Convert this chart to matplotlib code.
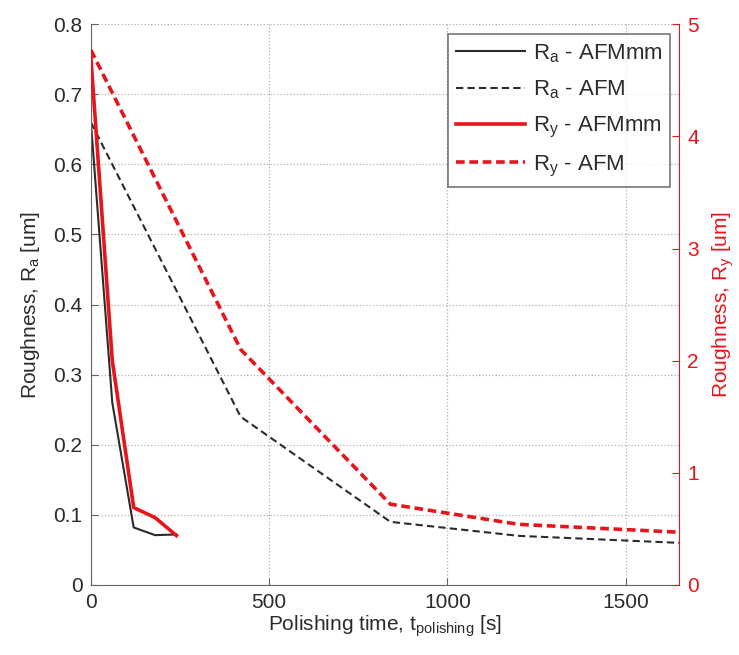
import matplotlib
matplotlib.use("Agg")
from matplotlib import pyplot as plt

plt.rcParams['font.family'] = ['Liberation Sans', 'DejaVu Sans']
plt.rcParams['mathtext.default'] = 'regular'

# polishing times [s]
t_mm = [0, 60, 120, 180, 240]
t_afm = [0, 420, 840, 1200, 1650]

# roughness values
ra_mm = [0.66, 0.26, 0.082, 0.071, 0.072]
ra_afm = [0.66, 0.24, 0.09, 0.07, 0.06]
ry_mm = [4.70, 2.00, 0.69, 0.60, 0.44]
ry_afm = [4.77, 2.10, 0.72, 0.54, 0.47]

black = '#2b2b2b'
red = '#e8141c'
fs = 15

fig = plt.figure(figsize=(7.39, 6.55), dpi=100)
ax = fig.add_axes([0.123, 0.107, 0.796, 0.856])
ax2 = ax.twinx()

l1, = ax.plot(t_mm, ra_mm, color=black, lw=1.5, label='R$_a$ - AFMmm')
l2, = ax.plot(t_afm, ra_afm, color=black, lw=1.5, ls=(0, (3.5, 2)), label='R$_a$ - AFM')
l3, = ax2.plot(t_mm, ry_mm, color=red, lw=2.6, label='R$_y$ - AFMmm')
l4, = ax2.plot(t_afm, ry_afm, color=red, lw=2.6, ls=(0, (2.4, 1.3)), label='R$_y$ - AFM')

ax.set_xlim(0, 1650)
ax.set_ylim(0, 0.8)
ax2.set_ylim(0, 5)
ax.set_xticks([0, 500, 1000, 1500])
ax.set_yticks([0, 0.1, 0.2, 0.3, 0.4, 0.5, 0.6, 0.7, 0.8])
ax.set_yticklabels(['0', '0.1', '0.2', '0.3', '0.4', '0.5', '0.6', '0.7', '0.8'])
ax2.set_yticks([0, 1, 2, 3, 4, 5])

# grid
ax.grid(True, ls=':', color='#b0b0b0', lw=0.9)

# spines like matlab
ax.spines['top'].set_visible(False)
ax2.spines['top'].set_visible(False)
ax.spines['right'].set_visible(False)
ax2.spines['left'].set_visible(False)
ax2.spines['bottom'].set_visible(False)
ax.spines['left'].set_color('#666666')
ax.spines['bottom'].set_color('#666666')
ax2.spines['right'].set_color(red)

ax.tick_params(direction='in', length=5, color='#666666', labelsize=fs,
               labelcolor=black, pad=6)
ax2.tick_params(direction='in', length=5, color=red, labelsize=fs,
                labelcolor=red, pad=6)

ax.set_xlabel('Polishing time, t$_{polishing}$ [s]', fontsize=fs, color=black, labelpad=1)
ax.set_ylabel('Roughness, R$_a$ [um]', fontsize=fs, color=black, labelpad=8)
ax2.set_ylabel('Roughness, R$_y$ [um]', fontsize=fs, color=red, labelpad=8)

leg = ax2.legend(handles=[l1, l2, l3, l4], loc='upper right',
                 bbox_to_anchor=(0.985, 0.982), fontsize=16, frameon=True,
                 fancybox=False, edgecolor='#555555', handlelength=3.1,
                 handletextpad=0.35, borderpad=0.35, labelspacing=0.62,
                 borderaxespad=0.0)
leg.get_frame().set_linewidth(1.2)
for txt in leg.get_texts():
    txt.set_color(black)

fig.savefig('out.png', dpi=100)
